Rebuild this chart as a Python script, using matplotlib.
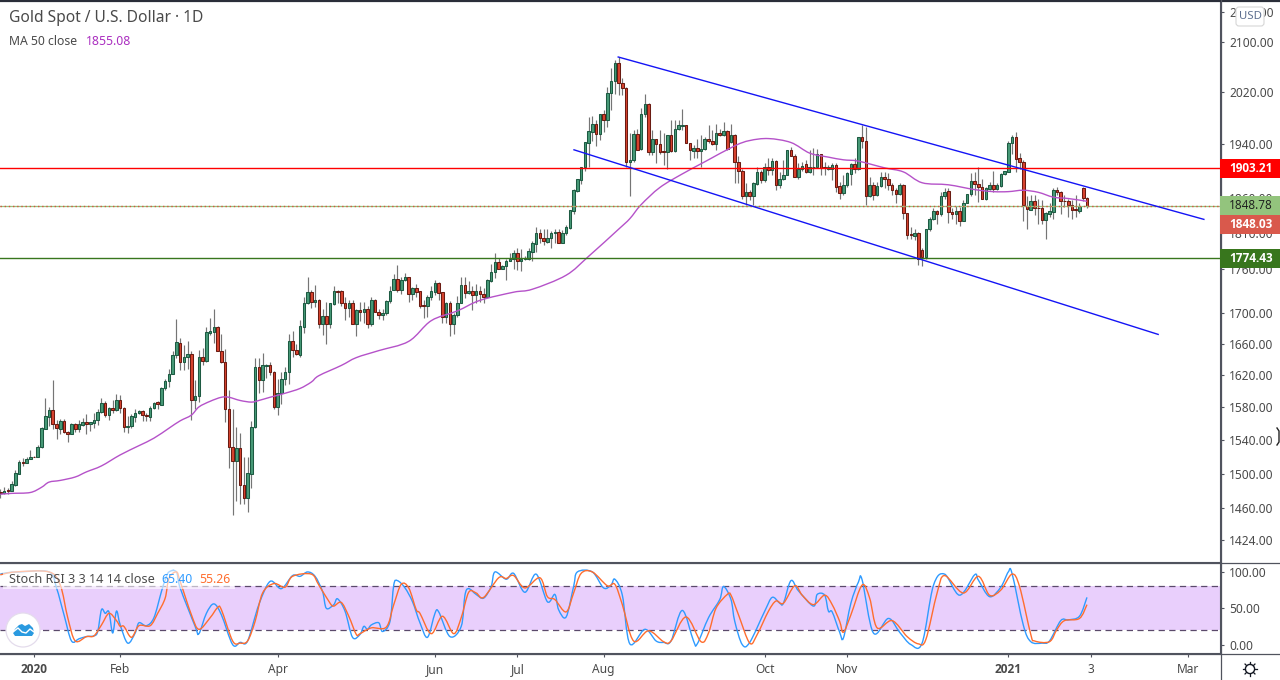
import numpy as np
import matplotlib
matplotlib.use("Agg")
import matplotlib.pyplot as plt
from matplotlib.patches import Circle, Polygon, Rectangle, FancyBboxPatch, PathPatch
from matplotlib.path import Path
from matplotlib.ticker import NullLocator

plt.rcParams["font.family"] = ["Noto Sans", "DejaVu Sans"]

# Daily candles

opens = [
    1479, 1477, 1481, 1480, 1487, 1500, 1514, 1513, 1517, 1520,
    1519, 1531, 1553, 1568, 1576, 1559, 1553, 1563, 1550, 1547,
    1559, 1553, 1558, 1562, 1559, 1560, 1564, 1574, 1585, 1570,
    1579, 1576, 1589, 1579, 1555, 1557, 1568, 1572, 1575, 1570,
    1568, 1579, 1586, 1583, 1603, 1612, 1621, 1645, 1661, 1636,
    1643, 1647, 1589, 1593, 1643, 1638, 1674, 1675, 1682, 1651,
    1637, 1578, 1532, 1515, 1530, 1487, 1472, 1500, 1555, 1630,
    1613, 1631, 1633, 1624, 1580, 1597, 1615, 1624, 1663, 1652,
    1645, 1682, 1714, 1728, 1715, 1718, 1686, 1696, 1686, 1712,
    1730, 1729, 1714, 1707, 1713, 1686, 1704, 1701, 1706, 1685,
    1718, 1702, 1697, 1700, 1716, 1731, 1746, 1731, 1745, 1748,
    1726, 1734, 1729, 1711, 1709, 1722, 1728, 1740, 1728, 1695,
    1714, 1685, 1698, 1714, 1738, 1727, 1730, 1724, 1729, 1726,
    1722, 1743, 1755, 1769, 1760, 1763, 1771, 1774, 1781, 1770,
    1773, 1774, 1783, 1794, 1809, 1803, 1797, 1802, 1809, 1811,
    1796, 1809, 1817, 1841, 1870, 1886, 1905, 1942, 1958, 1971,
    1955, 1985, 1977, 2018, 2038, 2066, 2035, 2027, 1912, 1915,
    1955, 1932, 1985, 2002, 1928, 1947, 1940, 1929, 1928, 1954,
    1929, 1963, 1967, 1969, 1942, 1929, 1933, 1929, 1932, 1947,
    1945, 1940, 1956, 1953, 1959, 1943, 1954, 1912, 1900, 1863,
    1868, 1862, 1880, 1898, 1886, 1906, 1901, 1914, 1878, 1887,
    1894, 1930, 1922, 1891, 1902, 1909, 1898, 1905, 1906, 1924,
    1905, 1903, 1902, 1908, 1877, 1867, 1878, 1895, 1909, 1903,
    1950, 1945, 1862, 1878, 1864, 1877, 1890, 1888, 1879, 1872,
    1866, 1879, 1838, 1808, 1806, 1810, 1786, 1776, 1815, 1830,
    1841, 1836, 1862, 1870, 1839, 1836, 1841, 1827, 1853, 1865,
    1885, 1880, 1876, 1859, 1873, 1879, 1873, 1877, 1895, 1898,
    1941, 1950, 1918, 1913, 1848, 1843, 1855, 1846, 1846, 1828,
    1837, 1840, 1872, 1869, 1856, 1856, 1849, 1844, 1841, 1875,
    1860,
]

closes = [
    1477, 1480, 1480, 1488, 1501, 1514, 1513, 1517, 1519, 1519,
    1531, 1554, 1569, 1576, 1559, 1554, 1563, 1550, 1547, 1559,
    1553, 1559, 1562, 1559, 1561, 1564, 1574, 1585, 1570, 1579,
    1576, 1589, 1579, 1555, 1557, 1569, 1572, 1575, 1570, 1569,
    1579, 1585, 1584, 1603, 1612, 1621, 1645, 1662, 1636, 1643,
    1647, 1589, 1593, 1643, 1638, 1675, 1676, 1682, 1651, 1636,
    1578, 1532, 1515, 1530, 1487, 1472, 1501, 1555, 1630, 1613,
    1632, 1633, 1624, 1580, 1597, 1615, 1624, 1663, 1652, 1647,
    1683, 1714, 1728, 1715, 1718, 1686, 1696, 1686, 1713, 1730,
    1728, 1714, 1707, 1713, 1686, 1704, 1701, 1706, 1685, 1718,
    1702, 1697, 1700, 1716, 1730, 1746, 1731, 1745, 1748, 1726,
    1734, 1728, 1710, 1709, 1722, 1729, 1740, 1727, 1695, 1714,
    1685, 1698, 1714, 1738, 1727, 1730, 1724, 1729, 1726, 1722,
    1744, 1755, 1769, 1760, 1763, 1771, 1774, 1781, 1770, 1774,
    1775, 1784, 1795, 1809, 1803, 1798, 1802, 1809, 1811, 1796,
    1809, 1818, 1842, 1871, 1887, 1906, 1943, 1959, 1971, 1955,
    1985, 1977, 2019, 2038, 2066, 2035, 2027, 1912, 1915, 1955,
    1931, 1985, 2002, 1928, 1947, 1940, 1928, 1928, 1954, 1929,
    1963, 1968, 1969, 1942, 1930, 1933, 1929, 1932, 1947, 1944,
    1940, 1956, 1954, 1959, 1932, 1954, 1912, 1900, 1863, 1868,
    1862, 1881, 1898, 1886, 1906, 1901, 1914, 1878, 1887, 1894,
    1930, 1922, 1891, 1902, 1907, 1898, 1905, 1906, 1924, 1904,
    1904, 1906, 1908, 1876, 1867, 1878, 1896, 1909, 1903, 1950,
    1945, 1862, 1878, 1864, 1877, 1890, 1888, 1879, 1872, 1866,
    1879, 1838, 1807, 1807, 1810, 1774, 1776, 1815, 1830, 1841,
    1836, 1862, 1869, 1839, 1836, 1841, 1827, 1853, 1865, 1885,
    1880, 1876, 1859, 1874, 1879, 1873, 1878, 1895, 1899, 1942,
    1950, 1917, 1913, 1849, 1844, 1855, 1845, 1845, 1828, 1838,
    1841, 1872, 1869, 1856, 1855, 1849, 1843, 1842, 1848, 1860,
    1848,
]

highs = [
    1482, 1484, 1483, 1491, 1504, 1516, 1518, 1519, 1528, 1521,
    1534, 1556, 1591, 1580, 1613, 1564, 1565, 1565, 1551, 1560,
    1560, 1564, 1566, 1571, 1561, 1572, 1577, 1591, 1587, 1580,
    1588, 1596, 1595, 1580, 1569, 1571, 1577, 1576, 1576, 1573,
    1581, 1586, 1587, 1605, 1615, 1627, 1650, 1692, 1667, 1658,
    1663, 1651, 1614, 1652, 1655, 1682, 1694, 1705, 1683, 1673,
    1653, 1601, 1578, 1556, 1548, 1519, 1519, 1563, 1641, 1641,
    1648, 1634, 1636, 1625, 1615, 1624, 1630, 1673, 1676, 1659,
    1691, 1722, 1749, 1731, 1738, 1719, 1706, 1715, 1714, 1737,
    1731, 1731, 1721, 1717, 1717, 1706, 1715, 1715, 1709, 1721,
    1719, 1706, 1706, 1717, 1737, 1753, 1765, 1749, 1754, 1749,
    1735, 1739, 1730, 1717, 1724, 1737, 1744, 1742, 1728, 1715,
    1716, 1700, 1723, 1749, 1749, 1743, 1737, 1739, 1736, 1733,
    1746, 1767, 1781, 1775, 1765, 1773, 1781, 1786, 1788, 1787,
    1777, 1788, 1799, 1818, 1816, 1816, 1816, 1812, 1815, 1815,
    1814, 1821, 1843, 1873, 1888, 1906, 1943, 1981, 1982, 1976,
    1985, 1992, 2028, 2058, 2071, 2076, 2042, 2028, 1956, 1961,
    1963, 1995, 2017, 2003, 1961, 1948, 1961, 1956, 1954, 1977,
    1976, 1976, 1993, 1969, 1942, 1938, 1948, 1953, 1951, 1968,
    1961, 1971, 1963, 1973, 1961, 1971, 1955, 1921, 1903, 1881,
    1871, 1883, 1906, 1901, 1911, 1918, 1918, 1916, 1898, 1916,
    1931, 1935, 1925, 1911, 1913, 1916, 1931, 1933, 1932, 1925,
    1913, 1908, 1911, 1911, 1883, 1893, 1898, 1911, 1918, 1950,
    1968, 1966, 1891, 1883, 1883, 1898, 1898, 1896, 1881, 1874,
    1881, 1880, 1838, 1818, 1816, 1811, 1788, 1815, 1833, 1845,
    1842, 1869, 1874, 1874, 1846, 1848, 1847, 1857, 1866, 1896,
    1898, 1905, 1888, 1876, 1883, 1900, 1881, 1896, 1900, 1945,
    1953, 1958, 1926, 1915, 1862, 1864, 1864, 1858, 1857, 1840,
    1852, 1874, 1876, 1870, 1864, 1859, 1857, 1864, 1852, 1876,
    1861,
]

lows = [
    1472, 1476, 1476, 1480, 1486, 1499, 1509, 1512, 1517, 1519,
    1519, 1530, 1553, 1557, 1553, 1541, 1547, 1548, 1537, 1547,
    1550, 1549, 1557, 1547, 1551, 1554, 1558, 1573, 1568, 1564,
    1573, 1575, 1573, 1550, 1548, 1554, 1562, 1571, 1563, 1563,
    1563, 1578, 1578, 1583, 1601, 1605, 1621, 1641, 1626, 1626,
    1628, 1564, 1577, 1586, 1633, 1636, 1671, 1661, 1650, 1635,
    1561, 1506, 1452, 1468, 1465, 1465, 1456, 1483, 1554, 1597,
    1598, 1616, 1620, 1578, 1570, 1584, 1607, 1609, 1643, 1646,
    1643, 1674, 1712, 1707, 1708, 1680, 1671, 1659, 1680, 1711,
    1713, 1709, 1691, 1695, 1685, 1670, 1689, 1687, 1681, 1683,
    1701, 1692, 1691, 1698, 1713, 1731, 1728, 1726, 1743, 1715,
    1717, 1722, 1707, 1693, 1695, 1717, 1724, 1717, 1687, 1687,
    1670, 1673, 1695, 1713, 1720, 1725, 1704, 1713, 1715, 1714,
    1721, 1742, 1747, 1759, 1759, 1745, 1770, 1760, 1758, 1757,
    1772, 1772, 1771, 1783, 1795, 1793, 1796, 1788, 1795, 1795,
    1795, 1807, 1815, 1836, 1869, 1880, 1899, 1906, 1944, 1937,
    1946, 1958, 1965, 1992, 2017, 2016, 2015, 1906, 1863, 1913,
    1930, 1930, 1981, 1923, 1923, 1911, 1925, 1908, 1903, 1928,
    1928, 1961, 1961, 1941, 1916, 1918, 1918, 1906, 1930, 1941,
    1938, 1930, 1952, 1952, 1930, 1942, 1882, 1882, 1859, 1850,
    1857, 1849, 1879, 1881, 1883, 1893, 1893, 1871, 1875, 1886,
    1893, 1921, 1890, 1888, 1900, 1897, 1896, 1893, 1905, 1893,
    1893, 1901, 1886, 1869, 1859, 1864, 1876, 1878, 1896, 1901,
    1933, 1850, 1861, 1857, 1862, 1876, 1874, 1871, 1864, 1852,
    1864, 1830, 1801, 1801, 1800, 1765, 1764, 1774, 1813, 1828,
    1823, 1834, 1859, 1824, 1830, 1823, 1819, 1826, 1852, 1863,
    1864, 1854, 1858, 1857, 1871, 1869, 1871, 1876, 1893, 1898,
    1925, 1898, 1903, 1827, 1816, 1843, 1835, 1822, 1823, 1801,
    1833, 1830, 1864, 1837, 1847, 1833, 1830, 1832, 1838, 1856,
    1845,
]

# Moving average, read at the bends of the line

ma_bars = [
    0, 3, 8, 11, 13, 16, 20, 23, 27, 32, 37, 41, 45, 48, 51, 53, 56, 59, 61, 64,
    67, 69, 72, 76, 80, 83, 85, 91, 95, 101, 109, 115, 122, 128, 137, 142, 151,
    157, 165, 168, 171, 176, 182, 188, 196, 200, 205, 211, 216, 221, 225, 229,
    236, 241, 246, 253, 260, 265, 269, 273, 277, 281, 285, 290,
]
ma_values = [
    1476, 1477, 1478, 1484, 1490, 1492, 1496, 1502, 1509, 1522, 1533, 1542, 1554,
    1563, 1570, 1580, 1587, 1592, 1592, 1588, 1586, 1588, 1592, 1597, 1603, 1611,
    1619, 1632, 1642, 1651, 1663, 1690, 1703, 1717, 1728, 1732, 1751, 1777, 1815,
    1830, 1850, 1875, 1895, 1913, 1937, 1945, 1948, 1942, 1926, 1920, 1916, 1914,
    1904, 1898, 1882, 1879, 1872, 1869, 1869, 1871, 1868, 1861, 1859, 1855,
]

# Stoch RSI lines

k_bars = [
    0, 2, 5, 13, 15, 17, 19, 21, 23, 25, 26, 27, 28, 29, 30, 31, 32, 34, 36, 37,
    39, 41, 43, 44, 45, 47, 48, 52, 53, 55, 57, 59, 62, 64, 66, 69, 72, 75, 78,
    80, 82, 84, 86, 87, 89, 90, 92, 94, 96, 97, 98, 99, 101, 102, 104, 105, 106,
    108, 110, 112, 114, 116, 117, 120, 123, 124, 125, 127, 129, 131, 132, 135,
    137, 140, 143, 146, 148, 149, 151, 153, 154, 158, 161, 163, 164, 166, 168,
    172, 175, 177, 179, 182, 185, 186, 189, 192, 193, 195, 196, 198, 200, 204,
    206, 208, 209, 211, 213, 217, 218, 220, 221, 222, 224, 225, 227, 229, 230,
    233, 237, 240, 243, 246, 249, 252, 256, 260, 261, 264, 267, 269, 270, 273,
    275, 278, 280, 283, 285, 288, 290,
]
k_values = [
    97, 99, 100, 100, 78, 41, 5, 8, 11, 12, 18, 48, 43, 45, 16, 46, 27, 2, 16, 30,
    26, 37, 73, 89, 100, 100, 78, 25, 15, 43, 56, 41, 0, 3, 5, 55, 87, 77, 95,
    94, 100, 94, 73, 50, 55, 63, 46, 10, 14, 25, 21, 27, 30, 18, 32, 82, 88,
    78, 59, 30, 10, 43, 45, 11, 25, 68, 77, 69, 64, 80, 100, 90,
    98, 72, 97, 59, 69, 48, 38, 80, 100, 100, 78, 82, 90, 68, 1,
    21, 5, 3, 5, 47, 5, 1, 37, 62, 80, 62, 32, 0, 3, 46,
    65, 57, 57, 88, 74, 53, 69, 68, 46, 45, 17, 9, 57, 86, 89,
    16, 36, 17, 0, 2, 81, 97, 68, 96, 89, 66, 79, 100, 98, 27,
    4, 2, 5, 33, 34, 39, 65,
]

d_bars = [
    0, 4, 13, 16, 18, 20, 23, 25, 27, 29, 31, 32, 33, 35, 37, 40, 42, 44, 45, 47,
    48, 51, 53, 56, 58, 59, 62, 64, 66, 68, 70, 73, 76, 78, 83, 85, 88, 89, 91,
    93, 95, 96, 99, 103, 105, 107, 109, 111, 112, 115, 118, 121, 123, 125, 127,
    129, 133, 135, 137, 140, 144, 146, 148, 151, 153, 155, 158, 162, 164, 166,
    169, 173, 177, 179, 183, 187, 189, 191, 194, 195, 197, 200, 202, 205, 207,
    209, 212, 214, 217, 220, 222, 224, 225, 227, 230, 232, 234, 238, 242, 245,
    247, 250, 252, 257, 261, 264, 267, 270, 272, 275, 276, 280, 282, 284, 288, 290,
]
d_values = [
    96, 100, 100, 82, 37, 5, 11, 12, 27, 43, 33, 25, 25, 10, 26, 26, 43, 64, 91, 100,
    87, 41, 21, 37, 51, 48, 5, 2, 5, 32, 71, 84, 79, 94, 97, 82, 57, 53, 58,
    39, 14, 15, 23, 24, 55, 83, 78, 48, 43, 15, 39, 15, 37, 72, 71,
    65, 92, 91, 95, 78, 92, 66, 62, 45, 71, 98, 100, 81, 83, 55,
    5, 19, 4, 5, 38, 4, 16, 50, 69, 68, 41, 2, 14, 46, 60,
    57, 81, 68, 55, 68, 55, 32, 17, 41, 82, 64, 23, 33, 11, 1,
    7, 71, 95, 71, 94, 68, 75, 97, 80, 14, 5, 4, 21, 33, 36, 55,
]

# Drawn levels and channel

resistance_level = 1903.21
support_level = 1774.43
bid_price = 1848.03
ask_price = 1848.78

upper_channel_bars = [164.9, 321.2]
upper_channel_prices = [2076, 1829]
lower_channel_bars = [153.1, 309.0]
lower_channel_prices = [1931, 1672]

# Axis labels

price_ticks = [2150, 2100, 2020, 1940, 1860, 1810, 1760, 1700, 1660, 1620, 1580, 1540, 1500, 1460, 1424]
stoch_ticks = [0, 50, 100]
time_tick_bars = [9, 32, 74, 116, 138, 161, 204, 226, 269, 291, 317]
time_tick_labels = ["2020", "Feb", "Apr", "Jun", "Jul", "Aug", "Oct", "Nov", "2021", "3", "Mar"]

text_color = "#4a4a4a"
axis_color = "#50535e"

opens = np.array(opens)
closes = np.array(closes)
highs = np.array(highs)
lows = np.array(lows)
bars = np.arange(len(opens))
is_up = closes >= opens


def smooth_line(target_ax, xs, ys, color, zorder):
    # Round the corners of a line with Bezier segments through the read points
    xs = np.asarray(xs, dtype=float)
    ys = np.asarray(ys, dtype=float)
    if target_ax.get_yscale() == "log":
        ys_shape = np.log(ys)
    else:
        ys_shape = ys
    vertices = [(xs[0], ys[0])]
    codes = [Path.MOVETO]
    for i in range(len(xs) - 1):
        before = max(i - 1, 0)
        after = min(i + 2, len(xs) - 1)
        x1 = xs[i] + (xs[i + 1] - xs[before]) / 6
        x2 = xs[i + 1] - (xs[after] - xs[i]) / 6
        y1 = ys_shape[i] + (ys_shape[i + 1] - ys_shape[before]) / 6
        y2 = ys_shape[i + 1] - (ys_shape[after] - ys_shape[i]) / 6
        if target_ax.get_yscale() == "log":
            y1, y2 = np.exp(y1), np.exp(y2)
        vertices += [(x1, y1), (x2, y2), (xs[i + 1], ys[i + 1])]
        codes += [Path.CURVE4, Path.CURVE4, Path.CURVE4]
    target_ax.add_patch(PathPatch(
        Path(vertices, codes), facecolor="none", edgecolor=color, linewidth=1.0, zorder=zorder,
    ))


# Layout, in pixels of the 1280x680 picture

fig = plt.figure(figsize=(12.8, 6.8), dpi=100, facecolor="white")
ax = fig.add_axes([0, 118 / 680, 1220 / 1280, 560 / 680])
stoch_ax = fig.add_axes([0, 27 / 680, 1220 / 1280, 91 / 680])
overlay = fig.add_axes([0, 0, 1, 1], zorder=10)
overlay.set_xlim(0, 1280)
overlay.set_ylim(680, 0)
overlay.axis("off")

ax.set_yscale("log")

# Candles

ax.vlines(bars, lows, highs, color="#757575", linewidth=0.85, zorder=2)
ax.bar(
    bars[is_up], (closes - opens)[is_up], bottom=opens[is_up], width=0.68,
    color="#479a78", edgecolor="#1d5a42", linewidth=0.75, zorder=3,
)
ax.bar(
    bars[~is_up], (opens - closes)[~is_up], bottom=closes[~is_up], width=0.68,
    color="#d8432f", edgecolor="#6a1b12", linewidth=0.75, zorder=3,
)

smooth_line(ax, ma_bars, ma_values, "#b552c9", 4)

ax.axhline(resistance_level, color="#ff0000", linewidth=1.0, zorder=5)
ax.axhline(support_level, color="#38761d", linewidth=1.0, zorder=5)
ax.axhline(ask_price, color="#93c47d", linewidth=0.9, zorder=5)
ax.axhline(bid_price, color="#d9503f", linewidth=1.0, linestyle=(0, (1, 2)), zorder=5)

ax.plot(upper_channel_bars, upper_channel_prices, color="#1414f5", linewidth=1.0, zorder=6)
ax.plot(lower_channel_bars, lower_channel_prices, color="#1414f5", linewidth=1.0, zorder=6)

# Price axis

ax.set_xlim(-0.08, 325.5)
ax.set_ylim(1400, 2167)
ax.yaxis.tick_right()
ax.set_yticks(price_ticks)
ax.set_yticklabels([f"{t:.2f}" for t in price_ticks])
ax.yaxis.set_minor_locator(NullLocator())
ax.tick_params(axis="y", length=3.2, width=0.8, color=axis_color, labelcolor=text_color, labelsize=8.6, pad=3.2)
ax.set_xticks([])
for name, spine in ax.spines.items():
    spine.set_visible(name == "right")
    spine.set_color(axis_color)

# Stoch RSI pane

stoch_ax.axhspan(20, 80, color="#e9cffc", linewidth=0, zorder=1)
stoch_ax.axhline(80, color="#5b4a6b", linewidth=0.9, linestyle=(0, (5, 3.5)), zorder=2)
stoch_ax.axhline(20, color="#5b4a6b", linewidth=0.9, linestyle=(0, (5, 3.5)), zorder=2)
smooth_line(stoch_ax, k_bars, k_values, "#2f9bff", 3)
smooth_line(stoch_ax, d_bars, d_values, "#ff6d2e", 4)

stoch_ax.set_xlim(-0.08, 325.5)
stoch_ax.set_ylim(-11.6, 113.7)
stoch_ax.yaxis.tick_right()
stoch_ax.set_yticks(stoch_ticks)
stoch_ax.set_yticklabels([f"{t:.2f}" for t in stoch_ticks])
stoch_ax.tick_params(axis="y", length=3.2, width=0.8, color=axis_color, labelcolor=text_color, labelsize=8.6, pad=3.2)
stoch_ax.set_xticks(time_tick_bars)
stoch_ax.set_xticklabels(time_tick_labels)
stoch_ax.tick_params(axis="x", length=2.6, width=0.8, color=axis_color, labelcolor=text_color, labelsize=8.6, pad=4.6)
for label in stoch_ax.get_xticklabels():
    if label.get_text() in ("2020", "2021"):
        label.set_family("Open Sans")
        label.set_fontweight("bold")
stoch_ax.spines["left"].set_visible(False)
for name in ("top", "bottom", "right"):
    stoch_ax.spines[name].set_color(axis_color)

# Header text

overlay.text(9, 18, "Gold Spot / U.S. Dollar · 1D", fontsize=11.2, color=text_color, va="center")
overlay.text(9, 41.5, "MA 50 close", fontsize=8.8, color=text_color, va="center")
overlay.text(86, 41.5, "1855.08", fontsize=8.8, color="#ab2fc0", va="center")

overlay.add_patch(Rectangle((3, 570), 232, 19, facecolor="white", alpha=0.6, linewidth=0))
overlay.text(9, 579.5, "Stoch RSI 3 3 14 14 close", fontsize=9.1, color=text_color, va="center")
overlay.text(161, 579.5, "65.40", fontsize=8.8, color="#2f9bff", va="center")
overlay.text(199, 579.5, "55.26", fontsize=8.8, color="#ff6d2e", va="center")

# Price tags on the axis

price_tags = [
    (resistance_level, "1903.21", "#ff0000", "white", "bold", 168.5),
    (ask_price, "1848.78", "#93c47d", "#1c1c1c", "normal", 205.5),
    (bid_price, "1848.03", "#d9594c", "white", "bold", 224),
    (support_level, "1774.43", "#38761d", "white", "bold", 258.5),
]
for price, tag, face, ink, weight, centre in price_tags:
    overlay.add_patch(Rectangle((1220, centre - 9.5), 60, 19, facecolor=face, linewidth=0, zorder=3))
    overlay.text(1229, centre, tag, fontsize=8.5, color=ink, fontweight=weight, family="Open Sans", va="center", zorder=4)

overlay.add_patch(FancyBboxPatch(
    (1238, 9), 24, 15, boxstyle="round,pad=2,rounding_size=3",
    facecolor="white", edgecolor="#d6d6d6", linewidth=0.8, zorder=3,
))
overlay.text(1250, 16.5, "USD", fontsize=8.2, color="#5d6f8f", ha="center", va="center", zorder=4)

# Frame lines that run past the plotting area

overlay.plot([0, 1280], [0.5, 0.5], color="#2a2e39", linewidth=1.6)
overlay.plot([0, 1280], [562.5, 562.5], color=axis_color, linewidth=0.9)
overlay.plot([0, 1280], [653.5, 653.5], color=axis_color, linewidth=0.9)
overlay.plot([1220.5, 1220.5], [0, 680], color=axis_color, linewidth=0.9, zorder=2)

# Logo badge

overlay.add_patch(Circle((23, 630), 17, facecolor="white", edgecolor="#e4dcec", linewidth=0.9))
overlay.add_patch(Polygon(
    [(13, 633), (15, 629), (19, 625), (22, 624), (25, 626), (29, 624), (33, 628), (34, 633), (32, 636), (15, 636)],
    closed=True, facecolor="#2a9ae0", linewidth=0,
))
overlay.plot([13, 18, 22, 26, 30, 34], [632, 628, 632, 633, 629, 632], color="white", linewidth=1.0)

# Settings gear and mouse cursor

overlay.add_patch(Circle((1250, 669), 4.6, facecolor="white", edgecolor="#131722", linewidth=1.0))
for angle in np.deg2rad(np.arange(0, 360, 45)):
    overlay.plot(
        [1250 + 4.6 * np.cos(angle), 1250 + 7 * np.cos(angle)],
        [669 + 4.6 * np.sin(angle), 669 + 7 * np.sin(angle)],
        color="#131722", linewidth=0.9,
    )
overlay.plot([1277, 1279, 1279, 1277], [428, 431, 442, 445], color="#222222", linewidth=1.0)

fig.savefig("out.png", dpi=100, facecolor="white")
